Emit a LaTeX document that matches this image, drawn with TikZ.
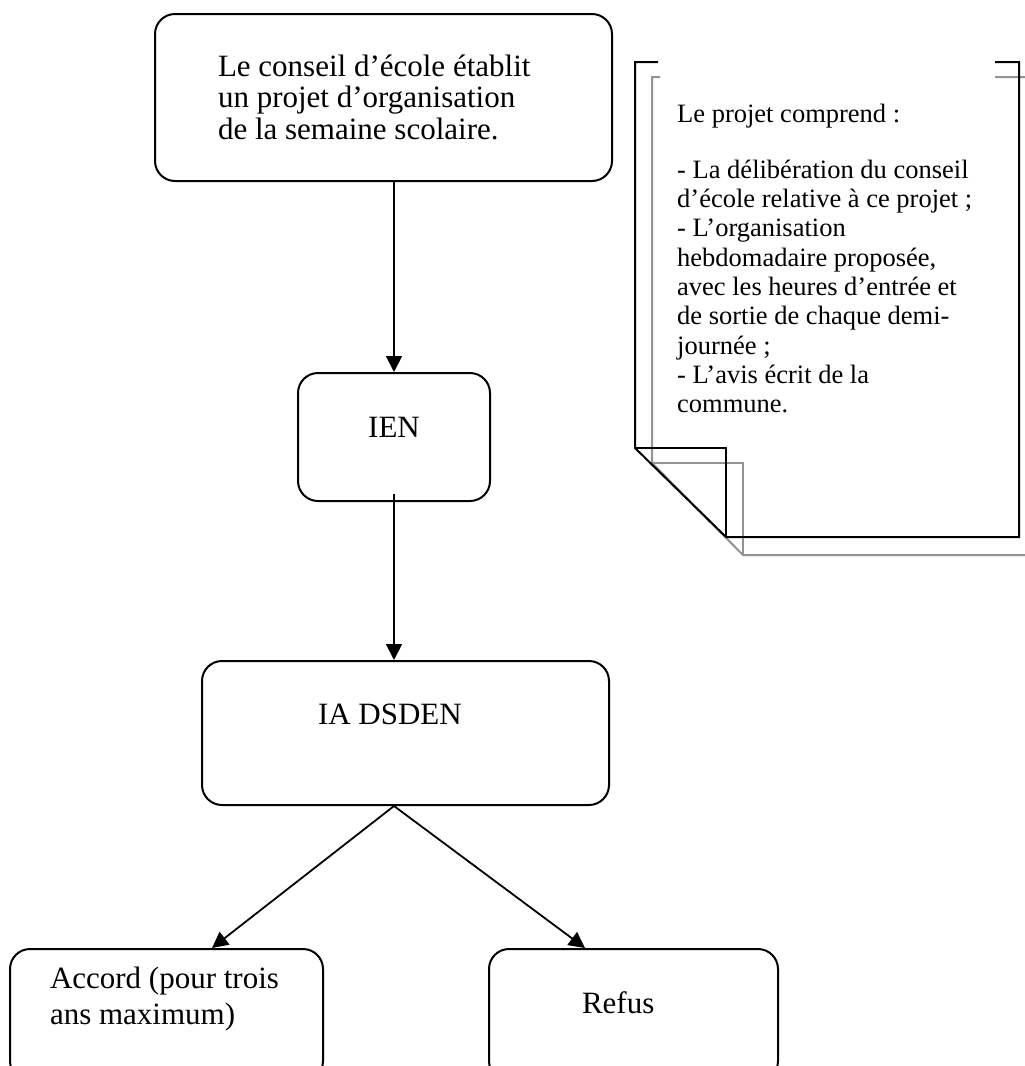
\documentclass[tikz,border=0pt]{standalone}
\usepackage{fontspec}
\setmainfont{Liberation Serif}
\usetikzlibrary{arrows.meta}
\tikzset{
  bx/.style={draw,rounded corners=20pt,line width=2pt,inner ysep=0pt,anchor=north,font=\fontsize{31}{36}\selectfont},
  arr/.style={-{Triangle[length=16pt,width=16pt]},line width=1.8pt},
  sheet/.style={line width=2pt},
  sheetshadow/.style={line width=2pt,draw=gray!85},
}
\begin{document}
\begin{tikzpicture}[x=1pt,y=-1pt]
  \useasboundingbox (0,0) rectangle (1025,1066);
  \clip (0,0) rectangle (1025,1066);
  % flow boxes
  \node[bx,inner xsep=63pt,text width=331pt,align=flush left,text height=62pt,text depth=105pt,font=\fontsize{31}{31.5}\selectfont] (conseil) at (383.5,13) {Le conseil d’école établit\\un projet d’organisation\\de la semaine scolaire.};
  \node[bx,inner xsep=0pt,text width=192pt,align=flush center,text height=64pt,text depth=64pt] (ien) at (394,372) {IEN};
  \node[bx,inner xsep=116pt,text width=175pt,align=flush left,text height=63pt,text depth=81pt] (ia) at (405.5,660) {IA DSDEN};
  \node[bx,inner xsep=40pt,text width=233pt,align=flush left,text height=39pt,text depth=93pt] (accord) at (166.5,948) {Accord (pour trois\\ans maximum)};
  \node[bx,inner xsep=93pt,text width=103pt,align=flush left,text height=64pt,text depth=68pt] (refus) at (633.5,948) {Refus};
  \draw[arr] (ien.north |- conseil.south) -- (ien.north);
  \draw[arr] ([yshift=8pt]ien.south) -- (ien.south |- ia.north);
  \draw[arr] (ien.south |- ia.south) -- ([xshift=45.5pt]accord.north);
  \draw[arr] (ien.south |- ia.south) -- ([xshift=-48.5pt]refus.north);
  % folded sheet
  \draw[sheetshadow] (660,77) -- (652,77) -- (652,463) -- (743,555) -- (1040,555) -- (1040,77) -- (995,77);
  \draw[sheetshadow] (652,463) -- (743,463) -- (743,555);
  \draw[sheet] (658,62) -- (635,62) -- (635,448) -- (726,537) -- (1019,537) -- (1019,62) -- (995,62);
  \draw[sheet] (635,448) -- (726,448) -- (726,537);
  \node[anchor=base west,inner sep=0pt,text width=340pt,align=flush left,font=\fontsize{26.5}{29.3}\selectfont] (projet) at (677,122) {Le projet comprend :\\[27pt]- La délibération du conseil\\d’école relative à ce projet ;\\- L’organisation\\hebdomadaire proposée,\\avec les heures d’entrée et\\de sortie de chaque demi-\\journée ;\\- L’avis écrit de la\\commune.};
\end{tikzpicture}
\end{document}
